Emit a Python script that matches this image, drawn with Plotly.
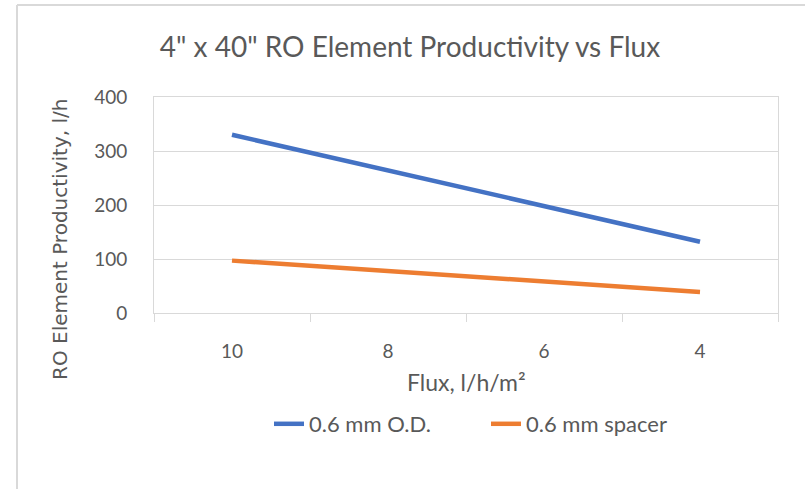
import plotly.graph_objects as go

flux = ["10", "8", "6", "4"]
od_values = [330, 264, 198, 132]
spacer_values = [97, 78, 58, 39]
series_names = ["0.6 mm O.D.", "0.6 mm spacer"]
y_ticks = [0, 100, 200, 300, 400]

W, H = 805, 489
L, R, T, B = 154, 778, 97, 313

def px(x):
    return (x - L) / (R - L)

def py(y):
    return (B - y) / (B - T)

GRAY = "#595959"
LINE = "#d9d9d9"
FONT = "Lato"

fig = go.Figure()
fig.add_trace(go.Scatter(x=flux, y=od_values, mode="lines", name=series_names[0],
                         line=dict(color="#4472C4", width=4.5)))
fig.add_trace(go.Scatter(x=flux, y=spacer_values, mode="lines", name=series_names[1],
                         line=dict(color="#ED7D31", width=4.5)))

fig.update_layout(
    width=W, height=H,
    margin=dict(l=L, r=W - R, t=T, b=H - B),
    paper_bgcolor="white", plot_bgcolor="white",
    font=dict(family=FONT, color=GRAY, size=19),
    title=dict(text='4" x 40" RO Element Productivity vs Flux', xref="container", yref="container",
               x=410 / W, y=1 - 47 / H, xanchor="center", yanchor="middle",
               font=dict(family=FONT, size=28, color=GRAY)),
    showlegend=True,
    legend=dict(orientation="h", x=px(486), y=py(424), xanchor="center", yanchor="middle",
                entrywidth=172, entrywidthmode="pixels",
                font=dict(family=FONT, size=22, color=GRAY), bgcolor="rgba(0,0,0,0)"),
    xaxis=dict(type="category", categoryorder="array", categoryarray=flux, range=[-0.5, 3.5],
               showline=True, linecolor=LINE, linewidth=1, mirror=True,
               ticks="outside", tickson="boundaries", ticklen=8, tickcolor=LINE,
               showgrid=False, ticklabelstandoff=21,
               tickfont=dict(family=FONT, size=19, color=GRAY), fixedrange=True),
    yaxis=dict(range=[0, 400], tickvals=y_ticks, showline=True, linecolor=LINE, linewidth=1,
               mirror=True, showgrid=True, gridcolor=LINE, gridwidth=1, zeroline=False,
               ticklabelstandoff=22, tickfont=dict(family=FONT, size=19, color=GRAY)),
    shapes=[
        dict(type="line", xref="paper", yref="paper", x0=px(17), x1=px(806), y0=py(5), y1=py(5),
             line=dict(color=LINE, width=2)),
        dict(type="line", xref="paper", yref="paper", x0=px(17), x1=px(17), y0=py(5), y1=py(490),
             line=dict(color=LINE, width=2)),
    ],
    annotations=[
        dict(text="Flux, l/h/m²", xref="paper", yref="paper", x=px(466), y=py(382),
             xanchor="center", yanchor="middle", showarrow=False,
             font=dict(family=FONT, size=23, color=GRAY)),
        dict(text="RO Element Productivity, l/h", xref="paper", yref="paper", x=px(60), y=py(240),
             xanchor="center", yanchor="middle", showarrow=False, textangle=-90,
             font=dict(family="DejaVu Sans", size=20, color=GRAY)),
    ],
)

fig.write_html("out.html")
